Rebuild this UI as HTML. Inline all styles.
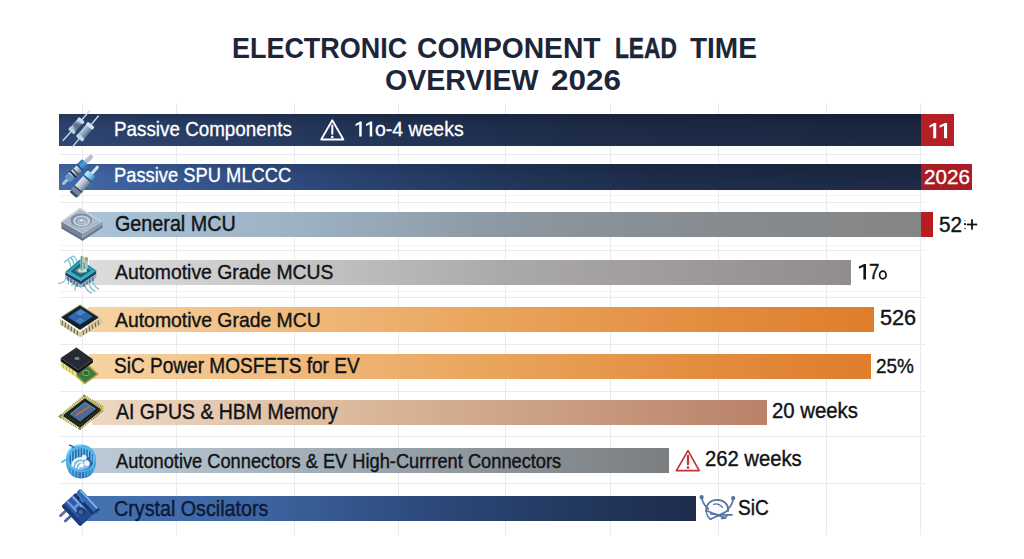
<!DOCTYPE html>
<html>
<head>
<meta charset="utf-8">
<title>Electronic Component Lead Time Overview 2026</title>
<style>
html,body{margin:0;padding:0;}
body{width:1024px;height:559px;position:relative;overflow:hidden;background:#ffffff;font-family:"Liberation Sans",sans-serif;}
.t{position:absolute;white-space:nowrap;line-height:1;transform-origin:0 0;font-family:"Liberation Sans",sans-serif;}
.bar{position:absolute;}
.gv{position:absolute;width:1px;background:#e9eaed;top:103px;height:432px;}
.gh{position:absolute;height:1px;background:#ebecef;left:60px;width:865px;}
.gh2{position:absolute;height:1px;background:#f2f3f5;left:60px;width:865px;}
svg{position:absolute;overflow:visible;}
</style>
</head>
<body>
<!-- grid -->
<div class="gv" style="left:82px"></div>
<div class="gv" style="left:176px"></div>
<div class="gv" style="left:294px"></div>
<div class="gv" style="left:398px"></div>
<div class="gv" style="left:505px"></div>
<div class="gv" style="left:610px"></div>
<div class="gv" style="left:718px"></div>
<div class="gv" style="left:826px"></div>
<div class="gv" style="left:920.4px"></div>
<div class="gh" style="top:154px"></div>
<div class="gh2" style="top:195px"></div>
<div class="gh" style="top:202px"></div>
<div class="gh2" style="top:245px"></div>
<div class="gh" style="top:250px"></div>
<div class="gh2" style="top:291px"></div>
<div class="gh" style="top:297px"></div>
<div class="gh" style="top:344px"></div>
<div class="gh" style="top:391px"></div>
<div class="gh" style="top:436px"></div>
<div class="gh" style="top:483px"></div>

<!-- bars -->
<div class="bar" id="b1" style="left:59px;top:114px;width:862px;height:32px;background:linear-gradient(180deg,rgba(8,14,30,0.28) 0%,rgba(8,14,30,0.06) 30%,rgba(60,100,160,0.07) 100%),linear-gradient(90deg,#2d456f 0%,#283d65 16%,#213152 40%,#1d2a46 63%,#1b253e 100%);"></div>
<div class="bar" id="b1r" style="left:921px;top:114px;width:33px;height:32px;background:#b51f26;"></div>
<div class="bar" id="b2" style="left:59px;top:164px;width:862px;height:26px;background:linear-gradient(180deg,rgba(8,14,30,0.12) 0%,rgba(8,14,30,0) 40%,rgba(90,130,200,0.06) 100%),linear-gradient(90deg,#4369a6 0%,#3b5e9b 8%,#314f84 20%,#28416e 34%,#203457 51%,#1c2a47 69%,#1b2640 100%);"></div>
<div class="bar" id="b2r" style="left:921px;top:164px;width:51px;height:26px;background:#a81c24;"></div>
<div class="bar" id="b3" style="left:88px;top:212px;width:833px;height:25px;background:linear-gradient(90deg,#aac3d8 0%,#9db1c2 26%,#8c98a2 50%,#868c91 74%,#858585 100%);"></div>
<div class="bar" id="b3r" style="left:921px;top:212px;width:12px;height:25px;background:#b81c1f;"></div>
<div class="bar" id="b4" style="left:89px;top:260px;width:762px;height:25px;background:linear-gradient(90deg,#dcdcdc 0%,#c4c4c4 28%,#acaaa9 54%,#9c9998 80%,#918d8c 100%);"></div>
<div class="bar" id="b5" style="left:88px;top:307px;width:786px;height:25px;background:linear-gradient(90deg,#f7d3a3 0%,#f0b97a 27%,#e9a35a 53%,#e38d40 78%,#df7d2c 100%);"></div>
<div class="bar" id="b6" style="left:89px;top:353.5px;width:782.4px;height:25px;background:linear-gradient(90deg,#f7d3a3 0%,#f0b97a 27%,#e9a35a 53%,#e38d40 78%,#df7d2c 100%);"></div>
<div class="bar" id="b7" style="left:92px;top:400px;width:675.4px;height:25px;background:linear-gradient(90deg,#ecd8c3 0%,#dfbfa3 32%,#cfa587 61%,#b98268 100%);"></div>
<div class="bar" id="b8" style="left:90px;top:448px;width:579px;height:25px;background:linear-gradient(90deg,#bccbd7 0%,#a3b0ba 37%,#8c9399 71%,#7c7e80 100%);"></div>
<div class="bar" id="b9" style="left:84px;top:495.7px;width:612px;height:25px;background:linear-gradient(90deg,#4672b2 0%,#3d65a1 28%,#2f4d80 52%,#243b63 76%,#1d2c4b 100%);"></div>

<!-- text -->
<div class="t" id="tt1" style="left:232.27px;top:33.55px;font-size:29px;color:#1d2638;transform:scaleX(0.9293);font-weight:bold;">ELECTRONIC</div>
<div class="t" id="tt2" style="left:416.83px;top:33.55px;font-size:29px;color:#1d2638;transform:scaleX(0.9740);font-weight:bold;">COMPONENT</div>
<div class="t" id="tt3" style="left:614.62px;top:33.55px;font-size:29px;color:#1d2638;transform:scaleX(0.7831);font-weight:bold;-webkit-text-stroke:0.5px #1d2638;">LEAD</div>
<div class="t" id="tt4" style="left:689.50px;top:33.55px;font-size:29px;color:#1d2638;transform:scaleX(0.9648);font-weight:bold;">TIME</div>
<div class="t" id="tt5" style="left:384.51px;top:66.05px;font-size:29px;color:#1d2638;transform:scaleX(0.9852);font-weight:bold;">OVERVIEW</div>
<div class="t" id="tt6" style="left:550.71px;top:66.05px;font-size:29px;color:#1d2638;transform:scaleX(1.0854);font-weight:bold;">2026</div>
<div class="t" id="l1" style="left:113.78px;top:118.95px;font-size:20.5px;color:#ffffff;transform:scaleX(0.9181);-webkit-text-stroke:0.3px #ffffff;">Passive Components</div>
<div class="t" id="l1b" style="left:374.90px;top:118.95px;font-size:20.5px;color:#ffffff;transform:scaleX(0.9487);-webkit-text-stroke:0.3px #ffffff;">o-4 weeks</div>
<div class="t" id="l2" style="left:113.91px;top:165.25px;font-size:20.5px;color:#ffffff;transform:scaleX(0.8946);-webkit-text-stroke:0.3px #ffffff;">Passive SPU MLCCC</div>
<div class="t" id="l3" style="left:114.58px;top:213.60px;font-size:21.5px;color:#111317;transform:scaleX(0.9186);-webkit-text-stroke:0.4px #111317;">General MCU</div>
<div class="t" id="l4" style="left:114.50px;top:260.82px;font-size:21px;color:#111317;transform:scaleX(0.9219);-webkit-text-stroke:0.4px #111317;">Automotive Grade MCUS</div>
<div class="t" id="l5" style="left:114.70px;top:308.52px;font-size:21px;color:#111317;transform:scaleX(0.9231);-webkit-text-stroke:0.4px #111317;">Automotive Grade MCU</div>
<div class="t" id="l6" style="left:113.70px;top:354.92px;font-size:21.6px;color:#111317;transform:scaleX(0.8822);-webkit-text-stroke:0.4px #111317;">SiC Power MOSFETS for EV</div>
<div class="t" id="l7" style="left:116.30px;top:402.30px;font-size:21.5px;color:#111317;transform:scaleX(0.9056);-webkit-text-stroke:0.4px #111317;">AI GPUS &amp; HBM Memory</div>
<div class="t" id="l8" style="left:116.20px;top:450.57px;font-size:20px;color:#111317;transform:scaleX(0.9123);-webkit-text-stroke:0.4px #111317;">Autonotive Connectors &amp; EV High-Currrent Connectors</div>
<div class="t" id="l9" style="left:114.07px;top:497.65px;font-size:21.2px;color:#0d1935;transform:scaleX(0.9301);-webkit-text-stroke:0.4px #0d1935;">Crystal Oscilators</div>
<div class="t" id="v2" style="left:924.49px;top:166.75px;font-size:20.5px;color:#ffffff;transform:scaleX(1.0067);-webkit-text-stroke:0.3px #ffffff;">2026</div>
<div class="t" id="v3" style="left:938.90px;top:213.58px;font-size:22px;color:#111317;transform:scaleX(0.9408);-webkit-text-stroke:0.4px #111317;">52</div>
<div class="t" id="v4" style="left:868.55px;top:260.88px;font-size:22px;color:#111317;transform:scaleX(0.8545);-webkit-text-stroke:0.4px #111317;">7</div>
<div class="t" id="v5" style="left:879.90px;top:308.07px;font-size:21.3px;color:#111317;transform:scaleX(1.0176);-webkit-text-stroke:0.4px #111317;">526</div>
<div class="t" id="v6" style="left:876.30px;top:355.22px;font-size:21px;color:#111317;transform:scaleX(0.9019);-webkit-text-stroke:0.4px #111317;">25%</div>
<div class="t" id="v7" style="left:771.95px;top:401.00px;font-size:21.5px;color:#111317;transform:scaleX(0.9463);-webkit-text-stroke:0.4px #111317;">20 weeks</div>
<div class="t" id="v8" style="left:704.95px;top:448.87px;font-size:21.3px;color:#111317;transform:scaleX(0.9494);-webkit-text-stroke:0.4px #111317;">262 weeks</div>
<div class="t" id="v9" style="left:737.80px;top:496.93px;font-size:21.7px;color:#111317;transform:scaleX(0.8780);-webkit-text-stroke:0.4px #111317;">SiC</div>
<!-- digit one glyphs -->
<svg width="1024" height="559" viewBox="0 0 1024 559" style="left:0;top:0;">
<polygon points="361.70,121.60 361.70,136.40 359.20,136.40 359.20,124.19 355.60,126.19 355.60,123.97 359.95,121.60" fill="#ffffff"/>
<polygon points="372.20,121.60 372.20,136.40 369.70,136.40 369.70,124.19 366.10,126.19 366.10,123.97 370.45,121.60" fill="#ffffff"/>
<polygon points="936.20,123.10 936.20,138.20 933.20,138.20 933.20,125.74 929.50,127.78 929.50,125.52 934.10,123.10" fill="#ffffff"/>
<polygon points="947.10,123.10 947.10,138.20 944.00,138.20 944.00,125.74 939.60,127.78 939.60,125.52 944.93,123.10" fill="#ffffff"/>
<polygon points="866.00,264.00 866.00,279.50 863.40,279.50 863.40,266.71 858.90,268.81 858.90,266.48 864.18,264.00" fill="#111317"/>
<ellipse cx="882.85" cy="275.05" rx="3.25" ry="3.9" fill="none" stroke="#111317" stroke-width="1.7"/>
</svg>
<!-- icons -->
<svg width="1024" height="559" viewBox="0 0 1024 559" style="left:0;top:0;">
<defs>
  <linearGradient id="gRes" x1="0" y1="0" x2="0" y2="1"><stop offset="0" stop-color="#bccfe2"/><stop offset="0.5" stop-color="#8aa4c0"/><stop offset="1" stop-color="#566e8a"/></linearGradient>
  <linearGradient id="gSil" x1="0" y1="0" x2="0" y2="1"><stop offset="0" stop-color="#e4ebf3"/><stop offset="0.45" stop-color="#b9c4d2"/><stop offset="1" stop-color="#6d7d92"/></linearGradient>
  <linearGradient id="gBlu" x1="0" y1="0" x2="0" y2="1"><stop offset="0" stop-color="#2f6fb4"/><stop offset="0.45" stop-color="#4a9ede"/><stop offset="1" stop-color="#2a64a4"/></linearGradient>
  <linearGradient id="gCap" x1="0" y1="0" x2="0" y2="1"><stop offset="0" stop-color="#c8ecff"/><stop offset="0.5" stop-color="#86c9f1"/><stop offset="1" stop-color="#3f86bd"/></linearGradient>
  <linearGradient id="gCup" x1="0" y1="0" x2="1" y2="0"><stop offset="0" stop-color="#3a9bdc"/><stop offset="0.5" stop-color="#2573b8"/><stop offset="1" stop-color="#3593d6"/></linearGradient>
</defs>

<!-- 1: two axial resistors -->
<g id="ic1">
  <g transform="translate(76.4,125.6) rotate(-48)">
    <line x1="-20" y1="0" x2="20" y2="0" stroke="#cfdbe8" stroke-width="1.3" stroke-linecap="round"/>
    <rect x="-8" y="-3.4" width="16" height="6.8" rx="1.6" fill="url(#gRes)"/>
    <rect x="-2.6" y="-3.1" width="5.2" height="6.2" fill="#52657d" opacity="0.75"/>
    <rect x="-8.4" y="-3.9" width="3.6" height="7.8" rx="1.4" fill="#bdd0e2"/>
    <rect x="4.8" y="-3.9" width="3.6" height="7.8" rx="1.4" fill="#c9dbea"/>
  </g>
  <g transform="translate(85.2,131.7) rotate(-50)">
    <line x1="-20.5" y1="0" x2="20.5" y2="0" stroke="#d4dfec" stroke-width="1.3" stroke-linecap="round"/>
    <rect x="-9.2" y="-4" width="18.4" height="8" rx="1.8" fill="url(#gRes)"/>
    <rect x="-9.6" y="-4.4" width="3.8" height="8.8" rx="1.5" fill="#c2d4e5"/>
    <rect x="5.8" y="-4.4" width="3.8" height="8.8" rx="1.5" fill="#d3e2ef"/>
  </g>
</g>

<!-- 2: two cylindrical parts -->
<g id="ic2">
  <g transform="translate(77.5,169.9) rotate(-44)">
    <rect x="-20.8" y="-1.5" width="8" height="3" rx="1.4" fill="#a9c6e4"/>
    <rect x="10" y="-2.2" width="10.8" height="4.4" rx="2" fill="#b4c2cf"/>
    <rect x="-14" y="-3.8" width="25" height="7.6" rx="1.6" fill="url(#gSil)"/>
    <rect x="-14" y="-3.8" width="5.5" height="7.6" rx="1.4" fill="#6793c8"/>
    <rect x="-7.2" y="-4.3" width="1.9" height="8.6" fill="#1c2c48"/>
    <rect x="-3.2" y="-4.1" width="1.2" height="8.2" fill="#2a3e5e"/>
    <rect x="2.6" y="-4.6" width="8.4" height="9.2" rx="1.5" fill="url(#gBlu)"/>
    <rect x="2.6" y="-4.6" width="1.6" height="9.2" fill="#1f4f86"/>
  </g>
  <g transform="translate(85.8,180.4) rotate(-48.7)">
    <rect x="8" y="-1.6" width="11" height="3.2" rx="1.5" fill="#d6e5f3"/>
    <rect x="-19" y="-4.9" width="28" height="9.8" rx="2" fill="url(#gSil)"/>
    <rect x="-19" y="-4.9" width="7" height="9.8" rx="2" fill="#7187a6"/>
    <rect x="-19.4" y="-4.6" width="2.6" height="9.2" rx="1.2" fill="#3d4f69"/>
    <rect x="-12.4" y="-5.1" width="1.4" height="10.2" fill="#31425c"/>
    <rect x="3" y="-5.1" width="6.2" height="10.2" rx="1.6" fill="url(#gCap)"/>
    <rect x="1.6" y="-5.1" width="1.6" height="10.2" fill="#1d4d78"/>
  </g>
</g>

<!-- 3: square plate with ring -->
<g id="ic3">
  <polygon points="61.2,221.5 82.6,233.5 82.6,240.8 61.6,228.4" fill="#72839a"/>
  <polygon points="82.6,233.5 102.7,221.5 102.5,227.4 82.6,240.8" fill="#8b9cae"/>
  <polygon points="61.6,226.4 82.6,238.6 102.5,225.6 102.5,227.4 82.6,240.8 61.6,228.4" fill="#5d6d80" opacity="0.8"/>
  <polygon points="61.2,221.5 79.9,208 102.7,221.5 82.6,233.5" fill="#b3c1ce"/>
  <polygon points="61.2,221.5 79.9,208 102.7,221.5 99.6,221.5 80,209.9 64.2,221.5" fill="#c6d1db"/>
  <polygon points="65,221.6 80.1,210.8 98.8,221.6 82.5,231.2" fill="none" stroke="#96a7b8" stroke-width="0.7"/>
  <ellipse cx="81.3" cy="220.4" rx="10.8" ry="7" fill="#7b8da2"/>
  <ellipse cx="81.7" cy="221" rx="8.8" ry="5.5" fill="#c3cfda"/>
  <ellipse cx="81.6" cy="221" rx="6" ry="3.8" fill="#8496aa"/>
  <ellipse cx="81.9" cy="221.4" rx="4.6" ry="2.8" fill="#bcc9d5"/>
  <ellipse cx="81.7" cy="220.9" rx="2.7" ry="1.9" fill="#7b8da2"/>
  <ellipse cx="81.6" cy="220.5" rx="2.1" ry="1.4" fill="#d7e0e8"/>
</g>

<!-- 4: teal chip with wire legs -->
<g id="ic4">
  <g fill="none" stroke="#86c2d6" stroke-width="1.4" stroke-linecap="round">
    <path d="M66.4,275.6 C65.6,280.4 64,283.2 58.6,283.4"/>
    <path d="M69.6,278.4 C69,281.4 68.6,282.6 68.2,284"/>
    <path d="M72.8,280.4 C72.4,283 72.2,284.4 72,285.6"/>
    <path d="M76,282.4 C75.6,286 75.2,288 75,290"/>
    <path d="M84.6,284 C85.6,288.6 88,291.6 91.4,293"/>
    <path d="M88.4,282 C89.4,286.4 91.6,289.6 94.8,291.4"/>
    <path d="M92,279.6 C93,283.6 95.4,287.2 98.6,289.2"/>
    <path d="M70.6,266 C69.6,259.6 66.6,258.6 64.4,262.4"/>
    <path d="M73.8,263.6 C72.6,257.6 69.6,256.6 67.6,259.6"/>
    <path d="M77,261.4 C75.6,256 72.8,255 71,257.6"/>
  </g>
  <polygon points="65.4,273 80.8,282.2 96.2,271.8 96.2,277.6 80.8,288 65.4,278.6" fill="#8fb6c8"/>
  <g stroke="#2b4460" stroke-width="1"><line x1="68" y1="277" x2="68" y2="281"/><line x1="71" y1="279" x2="71" y2="283"/><line x1="74" y1="281" x2="74" y2="285"/><line x1="77" y1="283" x2="77" y2="287"/><line x1="84" y1="283.5" x2="84" y2="287"/><line x1="87" y1="281.5" x2="87" y2="285"/><line x1="90" y1="279.5" x2="90" y2="283"/><line x1="93" y1="277.5" x2="93" y2="281"/></g>
  <polygon points="65.4,271.9 80.8,280.8 96.2,270.6 96.2,273.8 80.8,284.2 65.4,275" fill="#27405f"/>
  <polygon points="65.4,271.7 80,259.4 96.2,270.4 80.8,280.8" fill="#2db0c5"/>
  <polygon points="65.4,271.7 80,259.4 96.2,270.4 92.6,270.4 80,262 69,271.7" fill="#2593a8"/>
  <polygon points="70.6,271.4 80.1,263.4 91,270.6 80.7,277.4" fill="#1b6277"/>
  <polygon points="74.5,270.8 80.3,266 86.8,270.3 80.7,274.4" fill="#5b8a8c"/>
  <ellipse cx="82.4" cy="270.4" rx="4.6" ry="2.2" fill="#c9dccb"/>
  <rect x="80.4" y="255.8" width="3.4" height="14.8" rx="1.5" fill="#9fc2b4"/>
  <rect x="81" y="256" width="1" height="14" fill="#6f9a90"/>
  <rect x="84.6" y="257" width="3.2" height="12.4" rx="1.4" fill="#a9c6ba"/>
  <rect x="84.6" y="257" width="3.2" height="4.4" rx="1.4" fill="#c9946a"/>
</g>

<!-- 5: chip, blue die, beige pins -->
<g id="ic5">
  <polygon points="59.4,318.4 80,332 101.4,318 103,322.6 80.4,337.2 60.4,324.4" fill="#d3c9a3"/>
  <g stroke="#6f684d" stroke-width="1.1">
    <line x1="62.6" y1="320.6" x2="62" y2="325.6"/><line x1="65.6" y1="322.6" x2="65" y2="327.6"/><line x1="68.6" y1="324.6" x2="68" y2="329.6"/><line x1="71.6" y1="326.6" x2="71" y2="331.6"/><line x1="74.6" y1="328.6" x2="74" y2="333.6"/><line x1="77.6" y1="330.6" x2="77" y2="335.4"/>
    <line x1="83" y1="330.4" x2="83.8" y2="335"/><line x1="86" y1="328.4" x2="86.8" y2="333.2"/><line x1="89" y1="326.4" x2="89.8" y2="331.2"/><line x1="92" y1="324.4" x2="92.8" y2="329.2"/><line x1="95" y1="322.4" x2="95.8" y2="327.2"/><line x1="98" y1="320.4" x2="98.8" y2="325.2"/>
  </g>
  <polygon points="61,316.4 80,304.2 99,316.4 98.4,317.6 80,306.4 62,317.6" fill="#b9ae86"/>
  <polygon points="61.2,317.5 80,305.4 98.7,317.5 80,330" fill="#18202c"/>
  <polygon points="67.6,317.2 80.6,308.6 92.8,316.6 80,324.8" fill="#3068ae"/>
  <polygon points="74.6,313.2 80.6,309.2 86.2,312.8 80.2,316.8" fill="#4f8fd6" opacity="0.7"/>
  <polygon points="74.6,320.4 80.2,316.8 85.8,320.2 80,323.8" fill="#4f8fd6" opacity="0.55"/>
  <line x1="74.6" y1="313.2" x2="85.8" y2="320.2" stroke="#24508f" stroke-width="0.8"/>
  <line x1="86.2" y1="312.8" x2="74.6" y2="320.4" stroke="#24508f" stroke-width="0.8"/>
</g>

<!-- 6: black chip over green pcb -->
<g id="ic6">
  <polygon points="73.5,374.5 88,364 99,374.3 84.6,384.6" fill="#b3a548"/>
  <polygon points="76.3,374.6 88,366.2 96.5,374.2 84.7,382.6" fill="#3d7a40"/>
  <ellipse cx="86" cy="373" rx="3.4" ry="2.6" fill="#2f6434" stroke="#a9bd72" stroke-width="0.8"/>
  <polygon points="60.6,361 76.4,372.2 76.4,377.6 60.6,366.4" fill="#e9df80"/>
  <g stroke="#b9ad55" stroke-width="0.8"><line x1="63.5" y1="363.2" x2="63.5" y2="368.4"/><line x1="66.5" y1="365.3" x2="66.5" y2="370.5"/><line x1="69.5" y1="367.4" x2="69.5" y2="372.6"/><line x1="72.5" y1="369.5" x2="72.5" y2="374.7"/></g>
  <polygon points="60.7,357.9 78.2,370 92.9,359.2 92.9,362.4 78.2,373.4 60.7,361.2" fill="#14161b"/>
  <polygon points="60.7,357.9 76.4,347.6 92.9,359.2 78.2,370" fill="#272a33"/>
  <ellipse cx="77" cy="358.4" rx="2.6" ry="1.6" fill="#8d9296" opacity="0.8"/>
</g>

<!-- 7: QFP chip with olive pins -->
<g id="ic7">
  <polygon points="62.6,416.2 84.4,397.8 102.2,408.8 80,427" fill="none" stroke="#8f8a30" stroke-width="5.4" stroke-dasharray="1.1 0.9"/>
  <polygon points="62.2,416.4 84.2,397.4 102.6,408.8 80,427.4" fill="none" stroke="#cfc95e" stroke-width="2" stroke-dasharray="1.1 0.9"/>
  <polygon points="63.8,414.6 80,425.8 100.5,409 100.5,410.8 80,427.8 63.8,416.4" fill="#0f1412"/>
  <polygon points="63.8,414.6 84.9,398.3 100.5,409 80,425.8" fill="#1b2320"/>
  <polygon points="69.6,414.2 84.9,402 96,409 80,421.6" fill="#4d6994"/>
  <polygon points="69.6,414.2 84.9,402 96,409 94.6,409 84.9,403 71,414.2" fill="#6f8bb5"/>
  <line x1="76.4" y1="414.8" x2="89" y2="407" stroke="#c8743a" stroke-width="1.7" stroke-linecap="round" opacity="0.9"/>
</g>

<!-- 8: blue circular connector -->
<g id="ic8">
  <path d="M66,458 C65.6,470.4 70,478.4 81,478.4 C92,478.4 96.4,470.4 96,458 Z" fill="url(#gCup)"/>
  <g stroke="#8fd0f4" stroke-width="0.9" opacity="0.75"><line x1="68.6" y1="466" x2="69" y2="471.6"/><line x1="71.4" y1="468.6" x2="71.8" y2="474.4"/><line x1="74.6" y1="470.4" x2="74.8" y2="476.4"/><line x1="78" y1="471.4" x2="78" y2="477.6"/><line x1="81.4" y1="471.8" x2="81.4" y2="478"/><line x1="84.8" y1="471.4" x2="84.8" y2="477.6"/><line x1="88" y1="470.2" x2="87.8" y2="476.2"/><line x1="91" y1="468.4" x2="90.6" y2="474"/><line x1="93.6" y1="465.6" x2="93.2" y2="471"/></g>
  <ellipse cx="81" cy="458.4" rx="15" ry="13.8" fill="#52b6ea"/>
  <path d="M66.6,455 C68.6,447.6 75,444.4 82,444.8" fill="none" stroke="#a6e0fb" stroke-width="1.4" stroke-linecap="round"/>
  <ellipse cx="81.6" cy="459.4" rx="12.2" ry="11" fill="#2469ae"/>
  <g stroke="#7cc6f2" stroke-width="1.2" opacity="0.95"><line x1="71.6" y1="453" x2="71.6" y2="463"/><line x1="74.4" y1="450.6" x2="74.4" y2="461"/><line x1="77.2" y1="449.2" x2="77.2" y2="459"/><line x1="80" y1="448.6" x2="80" y2="457.6"/><line x1="82.8" y1="448.4" x2="82.8" y2="456"/><line x1="85.6" y1="448.8" x2="85.6" y2="455"/><line x1="88.4" y1="449.8" x2="88.4" y2="457"/><line x1="91.2" y1="452" x2="91.2" y2="461"/><line x1="93.4" y1="456" x2="93.4" y2="463"/></g>
  <ellipse cx="80.4" cy="464.2" rx="9.6" ry="6.2" fill="#7fbbe6"/>
  <path d="M72.6,466.6 C72.6,459.4 79,457.2 83.8,459" fill="none" stroke="#ffffff" stroke-width="2"/>
  <path d="M75.6,468 C75.8,463 79.6,461.2 83,462.4" fill="none" stroke="#eef6fc" stroke-width="1.6"/>
  <path d="M78.4,469 C78.6,466 80.6,465 82.6,465.6" fill="none" stroke="#ffffff" stroke-width="1.4"/>
  <circle cx="84.2" cy="457.2" r="2.5" fill="#eaf4fc"/>
  <circle cx="86.8" cy="463.2" r="2.6" fill="#f4f9fe"/>
  <circle cx="81.6" cy="465.4" r="2.2" fill="#ffffff"/>
  <path d="M69.6,445.2 C71.4,445.4 72.6,446.2 73.6,447.4" fill="none" stroke="#1c5fa6" stroke-width="1.5" stroke-linecap="round"/>
  <path d="M62,462.2 C63.8,460.4 65.6,459.6 67.6,459.6" fill="none" stroke="#45b0ea" stroke-width="1.7" stroke-linecap="round"/>
</g>

<!-- 9: blue crystal part -->
<g id="ic9">
  <g transform="translate(80,508) rotate(47)">
    <rect x="-9" y="11" width="2.8" height="9.8" rx="1.2" fill="#5b7192"/>
    <rect x="-1.9" y="11" width="2.8" height="9.8" rx="1.2" fill="#4865a6"/>
    <rect x="-14" y="-7" width="27.6" height="19.4" rx="2" fill="#2d5aa5"/>
    <rect x="-14" y="-7.4" width="27.6" height="3.4" rx="1.2" fill="#1b3569"/>
    <rect x="-13.6" y="-3.4" width="18.5" height="2.2" rx="0.8" fill="#79a9e4"/>
    <rect x="-13.6" y="3.6" width="14" height="2.2" rx="0.8" fill="#6c9edc"/>
    <rect x="-5.2" y="-3.4" width="2.4" height="9" fill="#6c9edc"/>
    <rect x="-14" y="8.4" width="27.6" height="4" rx="1.6" fill="#1d3b78"/>
    <rect x="5.6" y="-3.6" width="8" height="12" rx="1.5" fill="#244a8e"/>
    <circle cx="3.2" cy="1.6" r="4.3" fill="#1d386f"/>
    <circle cx="3.6" cy="2.2" r="2.5" fill="#3a64a8"/>
    <rect x="-14" y="-13.6" width="28.8" height="6" rx="2.2" fill="#3467b5"/>
    <rect x="-12.8" y="-13.3" width="26" height="1.9" rx="0.9" fill="#7fb0ea"/>
    <rect x="12" y="-13.6" width="2.8" height="6" rx="1.2" fill="#1d3b78"/>
    <rect x="-7" y="-8.6" width="5.4" height="3.4" fill="#3d72bf"/>
  </g>
</g>

<!-- warning (row 1, white) -->
<g id="w1" fill="none" stroke="#ffffff" stroke-width="1.8" stroke-linejoin="round" stroke-linecap="round">
  <path d="M332.3,120.2 L343.4,139.5 L321.2,139.5 Z"/>
  <line x1="332.3" y1="125.6" x2="332.3" y2="133.8" stroke-width="2.1"/>
  <circle cx="332.3" cy="137" r="0.6" stroke-width="1.5"/>
</g>

<!-- warning (row 8, red) -->
<g id="w8" fill="none" stroke="#c0343c" stroke-width="1.7" stroke-linejoin="round" stroke-linecap="round">
  <path d="M688,450.6 L699.2,470.6 L676.4,470.6 Z"/>
  <line x1="688" y1="456" x2="688" y2="464.2" stroke-width="2.3"/>
  <circle cx="688" cy="467.6" r="0.6" stroke-width="1.6"/>
</g>

<!-- SiC sketch glyph -->
<g id="sic" fill="none" stroke="#52749f" stroke-width="1.7" stroke-linecap="round" stroke-linejoin="round">
  <path d="M706.2,512 C705.4,504.6 710.4,499.8 717,499.8 C723.6,499.8 728.8,504.4 728.2,510.8"/>
  <path d="M701.8,497.8 C702.4,501.6 704.4,505.6 708.4,509"/>
  <path d="M733,498.8 C732.8,502.6 731,506.4 727.4,509.6"/>
  <circle cx="701.6" cy="497.2" r="1.3" fill="#52749f"/>
  <circle cx="733.2" cy="498.2" r="1.3" fill="#52749f"/>
  <path d="M706.2,510.4 C711,512.6 719,515.4 725.6,518.2"/>
  <path d="M728.2,510.6 C723,513.6 716,517 710.2,519.2"/>
  <path d="M710.6,514 C717,514.8 725,515 732,514.8"/>
  <path d="M706.6,513 C707,516 708.6,518 710.8,519.4" stroke-width="1.4"/>
  <path d="M721.4,518.6 C724,518.4 726,517.4 727,516" stroke-width="1.4"/>
  <path d="M713.6,504.4 C716.4,503.4 720,504.6 722.4,507.2" stroke-width="1.3"/>
</g>

<!-- plus sign + tiny dots after 52 -->
<g id="plus" fill="#111317">
  <rect x="966.9" y="223.6" width="10.3" height="1.8"/>
  <rect x="971.1" y="219.3" width="1.8" height="10.4"/>
  <circle cx="965" cy="224.2" r="1.1"/>
  <circle cx="965" cy="220.6" r="0.6" opacity="0.6"/>
  <circle cx="965" cy="228.6" r="0.8" opacity="0.8"/>
</g>
</svg>

</body>
</html>
